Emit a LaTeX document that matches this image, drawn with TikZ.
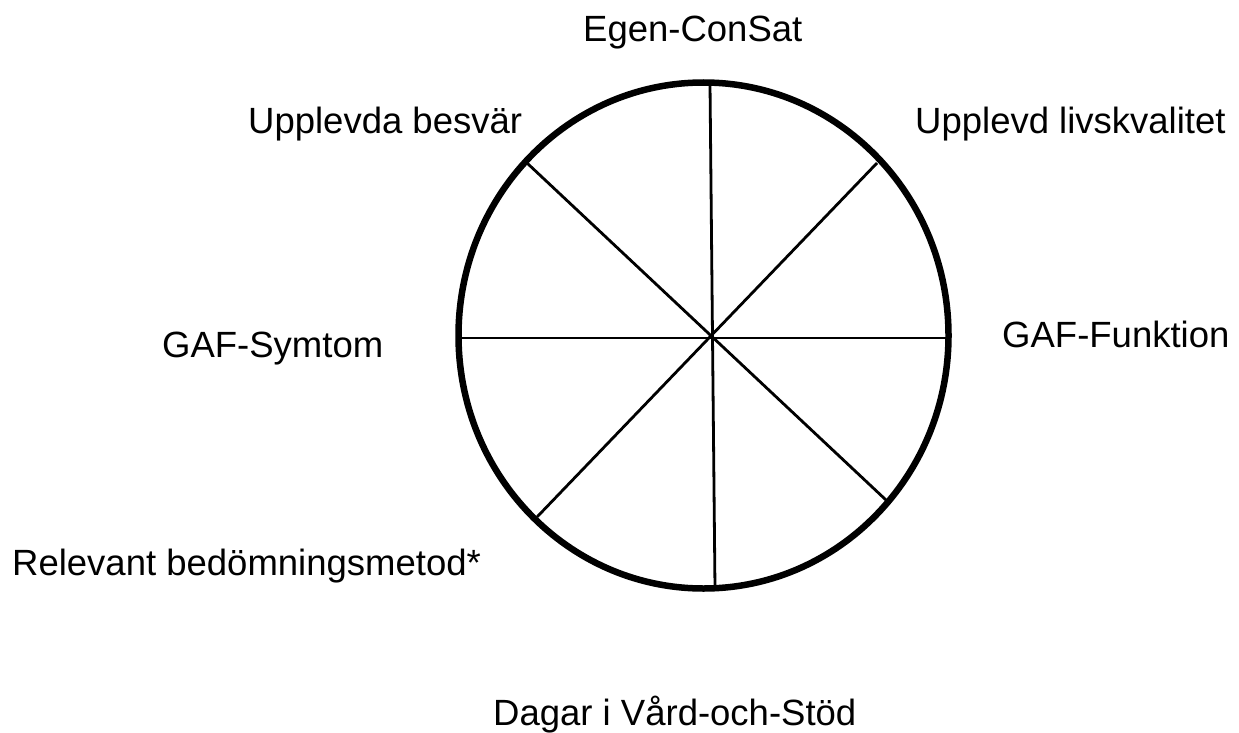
\documentclass[tikz,border=0pt]{standalone}
\usepackage{fontspec}
\setmainfont{Liberation Sans}
\usepackage{tikz}

\begin{document}
\begin{tikzpicture}[x=1pt,y=-1pt,
    lbl/.style={inner sep=0pt, anchor=base west, font=\fontsize{36.5}{44}\selectfont},
    spoke/.style={line width=2.8pt},
    rim/.style={line width=6.5pt}]
  \useasboundingbox (0,0) rectangle (1239,733);

  % Spoke ends on the rim
  \coordinate (n) at (710,84);
  \coordinate (s) at (715,589);
  \coordinate (w) at (459,338);
  \coordinate (e) at (948,338);
  \coordinate (nw) at (527,163);
  \coordinate (se) at (886,500);
  \coordinate (ne) at (877,163);
  \coordinate (sw) at (537,517);
  \coordinate (hub) at (703.5,335.5);

  % Spokes
  \draw[spoke] (n) -- (s);
  \draw[spoke] (w) -- (e);
  \draw[spoke] (nw) -- (se);
  \draw[spoke] (ne) -- (sw);

  % Rim
  \draw[rim] (hub) ellipse [x radius=245pt, y radius=253pt];

  % Labels
  \node[lbl] (egen) at (583,42) {Egen-ConSat};
  \node[lbl] (besvar) at (248,133) {Upplevda besvär};
  \node[lbl] (livs) at (915,133) {Upplevd livskvalitet};
  \node[lbl] (symtom) at (162,357) {GAF-Symtom};
  \node[lbl] (funktion) at (1002,347) {GAF-Funktion};
  \node[lbl] (metod) at (12,575) {Relevant bedömningsmetod*};
  \node[lbl] (dagar) at (493,725) {Dagar i Vård-och-Stöd};
\end{tikzpicture}
\end{document}
